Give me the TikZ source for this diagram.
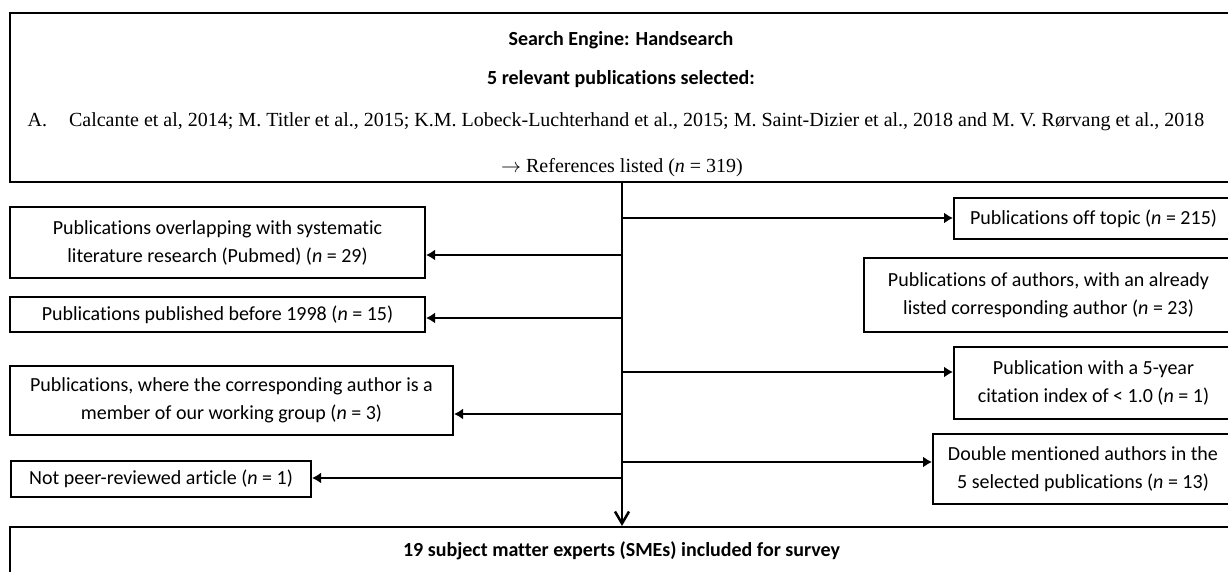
\documentclass[tikz,border=0pt]{standalone}
\usepackage{fontspec}
\setmainfont[Ligatures=NoCommon]{Carlito}
\newfontfamily\serifline{Liberation Serif}
\usetikzlibrary{arrows.meta}
\tikzset{
  box/.style={draw, line width=1pt, inner sep=0pt, align=center, font=\fontsize{10}{14}\selectfont},
  toptext/.style={inner sep=0pt, font=\fontsize{10}{12}\selectfont},
  branch/.style={line width=1.25pt, -{Latex[length=4.5pt,width=5.5pt]}},
}
\begin{document}
\begin{tikzpicture}[x=0.5pt, y=-0.5pt]
  \useasboundingbox (0,0) rectangle (1228,572);
  \clip (0,0) rectangle (1228,572);

  \node[box, line width=0.8pt, minimum width=611.5pt, minimum height=84.5pt] (top) at (621.5,97.5) {};
  \node[toptext, font=\fontsize{10}{12}\selectfont\bfseries] (engine) at (621,40) {Search Engine: Handsearch};
  \node[toptext, font=\fontsize{10}{12}\selectfont\bfseries] (selected) at (621,79) {5 relevant publications selected:};
  \node[toptext, font=\fontsize{10}{12}\selectfont\serifline] (cited) at (616,122) {A.\hspace{1.1em}Calcante et al, 2014; M. Titler et al., 2015; K.M. Lobeck-Luchterhand et al., 2015; M. Saint-Dizier et al., 2018 and M. V. Rørvang et al., 2018};
  \node[toptext, font=\fontsize{10}{12}\selectfont\serifline] (listed) at (622,168) {$\rightarrow$ References listed (\textit{n} = 319)};

  \node[box, minimum width=139.5pt, minimum height=20.5pt] (offtopic) at (1093.5,218.5) {Publications off topic (\textit{n} = 215)};
  \node[box, minimum width=184.5pt, minimum height=37pt] (authors) at (1048.5,295) {Publications of authors, with an already\\listed corresponding author (\textit{n} = 23)};
  \node[box, minimum width=139.5pt, minimum height=36pt] (citation) at (1093.5,383) {Publication with a 5-year\\citation index of < 1.0 (\textit{n} = 1)};
  \node[box, minimum width=150pt, minimum height=35pt] (double) at (1083,469) {Double mentioned authors in the\\5 selected publications (\textit{n} = 13)};

  \node[box, minimum width=207.5pt, minimum height=35.5pt] (overlap) at (217.5,242.5) {Publications overlapping with systematic\\literature research (Pubmed) (\textit{n} = 29)};
  \node[box, minimum width=207.5pt, minimum height=17.5pt] (before) at (217.5,314.5) {Publications published before 1998 (\textit{n} = 15)};
  \node[box, minimum width=221.5pt, minimum height=34.5pt] (corresp) at (231.5,400.5) {Publications, where the corresponding author is a\\member of our working group (\textit{n} = 3)};
  \node[box, minimum width=150pt, minimum height=18pt] (peer) at (161,479) {Not peer-reviewed article (\textit{n} = 1)};

  \node[box, font=\fontsize{10}{14}\selectfont\bfseries, minimum width=611.5pt, minimum height=24pt] (smes) at (621.5,551) {19 subject matter experts (SMEs) included for survey};

  \coordinate (trunk) at (622,0);
  \draw[line width=1.25pt, -{Straight Barb[length=6pt,width=7pt]}] (trunk |- top.south) -- (trunk |- smes.north);

  \foreach \y/\n in {218/offtopic, 372/citation, 462/double} {
    \coordinate (r\n) at (622,\y);
    \draw[branch] (r\n) -- (r\n -| \n.west);
  }
  \foreach \y/\n in {255/overlap, 318/before, 414/corresp, 478/peer} {
    \coordinate (l\n) at (622,\y);
    \draw[branch] (l\n) -- (l\n -| \n.east);
  }
\end{tikzpicture}
\end{document}
